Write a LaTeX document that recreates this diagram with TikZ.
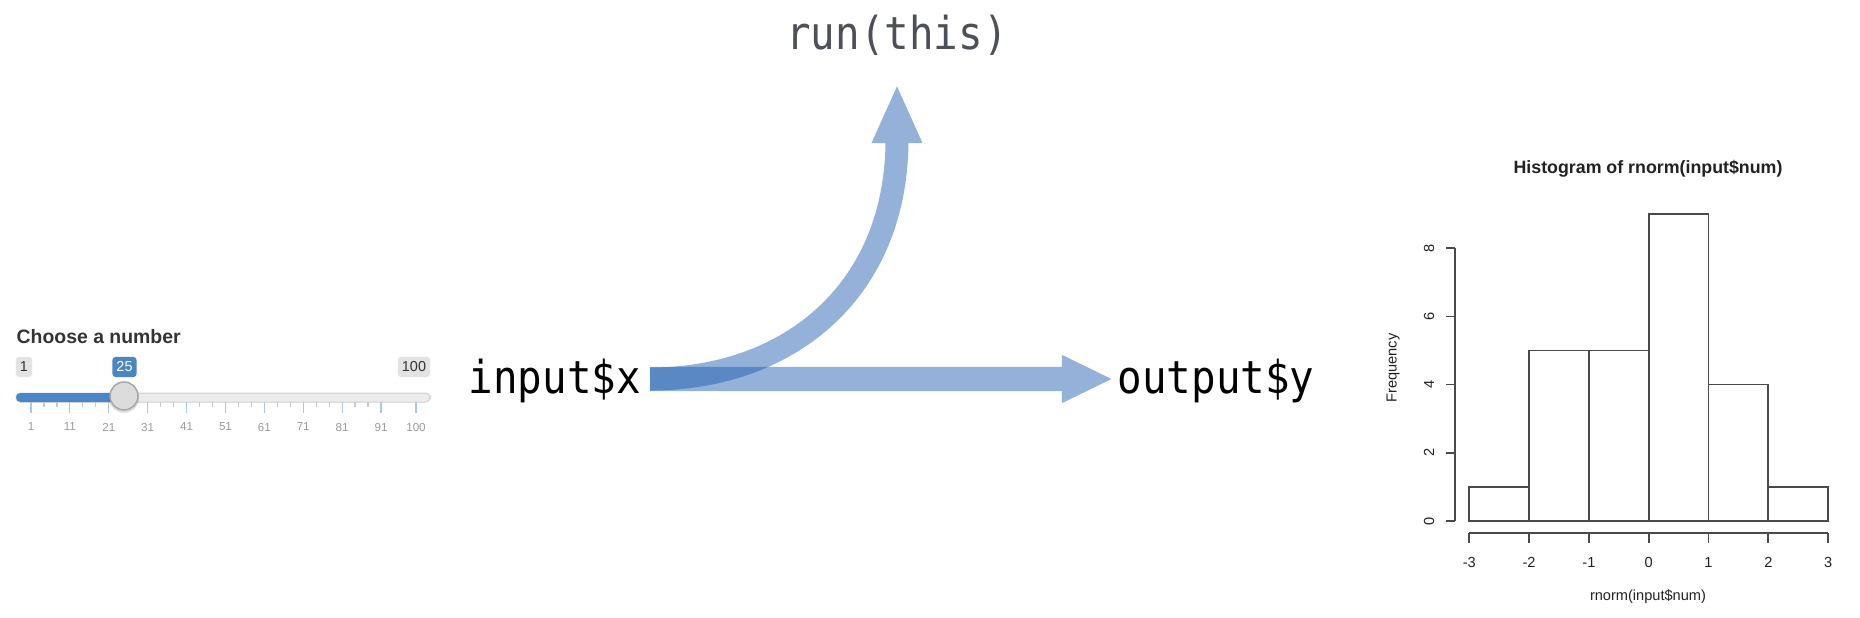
\documentclass[tikz,border=0pt]{standalone}
\usepackage{fontspec}
\setmainfont{Liberation Sans}
\newfontfamily\codefont[FakeStretch=0.9]{DejaVu Sans Mono}
\usetikzlibrary{arrows.meta}
\definecolor{arrowblue}{RGB}{26,90,176}
\definecolor{codegray}{HTML}{4D5058}
\definecolor{sliderblue}{HTML}{4A85C5}
\definecolor{badgegray}{HTML}{E3E3E3}
\definecolor{tickblue}{HTML}{A9C7E8}
\definecolor{tickgray}{HTML}{C8C8C8}
\definecolor{ticklabel}{HTML}{9A9A9A}
\definecolor{histline}{HTML}{4A4A4A}
\definecolor{histtext}{HTML}{222222}
\definecolor{labeltext}{HTML}{333333}
\definecolor{trackfill}{HTML}{ECECEC}
\definecolor{trackborder}{HTML}{D0D0D0}
\definecolor{handlefill}{HTML}{DCDCDC}
\definecolor{handleborder}{HTML}{A8A8A8}
\begin{document}
\begin{tikzpicture}[x=0.01cm,y=-0.01cm,
  code/.style={font=\codefont\fontsize{12.9pt}{14pt}\selectfont, inner sep=0pt},
  flow/.style={arrowblue, line width=0.24cm},
  badge/.style={rounded corners=0.03cm, fill=badgegray, text=labeltext, minimum height=0.2cm, inner xsep=0.04cm, inner ysep=0pt, font=\fontsize{4.1pt}{5pt}\selectfont},
  ticklbl/.style={text=ticklabel, inner sep=0pt, font=\fontsize{3.3pt}{4pt}\selectfont},
  histbar/.style={draw=histline, line width=0.017cm},
  axistext/.style={text=histtext, inner sep=0pt, font=\fontsize{4.15pt}{5pt}\selectfont}]
\useasboundingbox (0,0) rectangle (1860,618);
\fill[white] (0,0) rectangle (1860,618);

% ---------- slider ----------
\node[anchor=base west, inner sep=0pt, text=labeltext, font=\bfseries\fontsize{5.52pt}{6pt}\selectfont] (choose) at (16,343) {Choose a number};
\draw[fill=trackfill, draw=trackborder, line width=0.01cm, rounded corners=0.045cm] (16,393) rectangle (430,402);
\fill[sliderblue, rounded corners=0.045cm] (16,393) rectangle (130,402);
\foreach \v in {1,11,21,31,41,51,61,71,81,91,100} {
  \draw[tickblue, line width=0.012cm] ({31+(\v-1)*3.889},402) -- ({31+(\v-1)*3.889},413);
  \node[ticklbl] at ({31+(\v-1)*3.889},427) {\v};
}
\foreach \i in {0,...,8} \foreach \j in {1,2} {
  \draw[tickgray, line width=0.012cm] ({31+\i*38.89+\j*12.963},402) -- ({31+\i*38.89+\j*12.963},407);
}
\fill[black, opacity=0.12] (124,398) circle[radius=0.15cm];
\draw[fill=handlefill, draw=handleborder, line width=0.015cm] (124,396) circle[radius=0.14cm];
\node[badge] (b1) at (24,367) {1};
\node[badge, fill=sliderblue, text=white] (b25) at (124.5,367) {25};
\node[badge] (b100) at (414,367) {100};

% ---------- code labels ----------
\node[code, anchor=base west] (in) at (468,393) {input\$x};
\node[code, anchor=base west] (out) at (1117,393) {output\$y};
\node[code, text=codegray, anchor=base] (run) at (897,49) {run(this)};
\coordinate (start) at (650,379);

% ---------- arrows ----------
\begin{scope}[transparency group, opacity=0.47]
  \draw[flow, shorten >=0.04cm, -{Triangle[length=0.51cm,width=0.44cm]}] (start) -- (start -| out.west);
\end{scope}
\begin{scope}[transparency group, opacity=0.47]
  \draw[flow, line width=0.23cm, -{Triangle[length=0.59cm,width=0.46cm]}] (start) .. controls (790,379) and (897,290) .. ([yshift=-0.35cm]run.base);
\end{scope}

% ---------- histogram ----------
\node[anchor=base, inner sep=0pt, text=histtext, font=\bfseries\fontsize{5.06pt}{6pt}\selectfont] (title) at (1648,173) {Histogram of rnorm(input\$num)};
\foreach \k/\c in {-3/1,-2/5,-1/5,0/9,1/4,2/1} {
  \draw[histbar] ({1648.7+59.8*\k},521) rectangle ({1648.7+59.8*(\k+1)},{521-34.1*\c});
}
% y axis
\draw[histbar] (1455,521) -- (1455,{521-34.1*8});
\foreach \c in {0,2,4,6,8} {
  \draw[histbar] (1455,{521-34.1*\c}) -- (1446,{521-34.1*\c});
  \node[axistext, rotate=90] at (1429,{521-34.1*\c}) {\c};
}
\node[axistext, rotate=90] (freq) at (1393,368) {Frequency};
% x axis
\draw[histbar] (1469.3,533) -- (1828.1,533);
\foreach \k in {-3,...,3} {
  \draw[histbar] ({1648.7+59.8*\k},533) -- ({1648.7+59.8*\k},543);
  \node[axistext] at ({1648.7+59.8*\k},562) {\k};
}
\node[axistext] (xlab) at (1648,597) {rnorm(input\$num)};
\end{tikzpicture}
\end{document}
